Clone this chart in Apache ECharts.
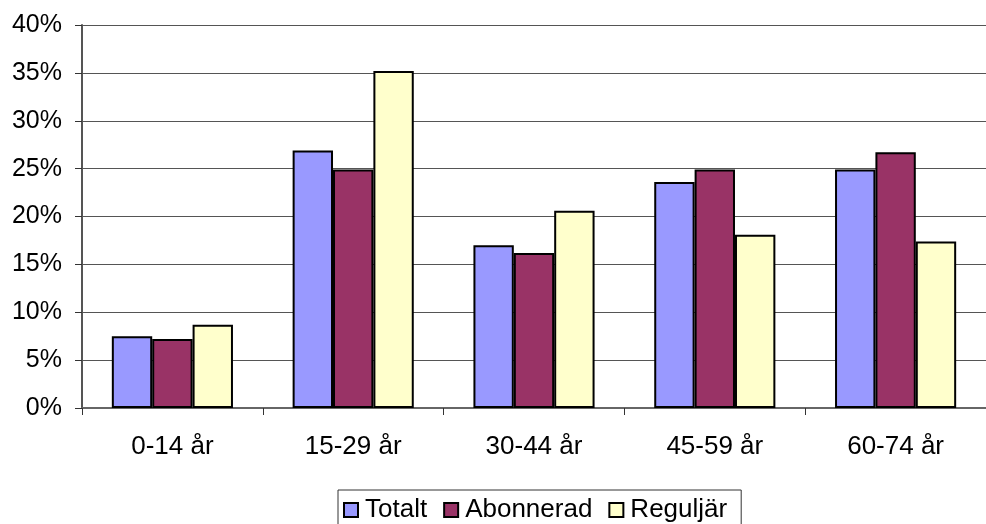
<!DOCTYPE html>
<html>
<head>
<meta charset="utf-8">
<script src="https://cdn.jsdelivr.net/npm/echarts@6/dist/echarts.min.js"></script>
<style>
  html, body { margin: 0; padding: 0; background: #fff; }
  #chart { width: 986px; height: 524px; }
</style>
</head>
<body>
<div id="chart"></div>
<script>
const FONT = '"Liberation Sans", Arial, sans-serif'

const categories = ['0-14 år', '15-29 år', '30-44 år', '45-59 år', '60-74 år']
const seriesNames = ['Totalt', 'Abonnerad', 'Reguljär']
const totalt = [7.5, 26.9, 17.0, 23.6, 24.9]
const abonnerad = [7.2, 24.9, 16.2, 24.9, 26.7]
const reguljar = [8.7, 35.2, 20.6, 18.1, 17.4]
const colors = ['#9999ff', '#993366', '#ffffcc']

const chart = echarts.init(document.getElementById('chart'))

const makeBar = (name, data, color) => ({
  name,
  type: 'bar',
  data,
  barGap: '0%',
  barCategoryGap: '33%',
  itemStyle: { color, borderColor: '#000', borderWidth: 2 },
})

chart.setOption({
  animation: false,
  textStyle: { fontFamily: FONT },
  grid: { left: 82, top: 25, right: -12, bottom: 116, containLabel: false },
  legend: {
    top: 490,
    left: 338,
    data: seriesNames,
    icon: 'rect',
    itemWidth: 14,
    itemHeight: 14,
    itemGap: 16,
    padding: [7, 14, 30, 5],
    borderColor: '#333',
    borderWidth: 1,
    itemStyle: { borderColor: '#000', borderWidth: 2 },
    textStyle: { fontSize: 26, color: '#000', fontFamily: FONT, padding: [0, 0, 0, 2] },
  },
  xAxis: {
    type: 'category',
    data: categories,
    axisLine: { lineStyle: { color: '#666', width: 2 } },
    axisTick: { show: true, length: 7, lineStyle: { color: '#333', width: 1 } },
    axisLabel: { fontSize: 26, color: '#000', margin: 26, fontFamily: FONT },
  },
  yAxis: {
    type: 'value',
    min: 0,
    max: 40,
    interval: 5,
    axisLine: { show: true, lineStyle: { color: '#555', width: 2 } },
    axisTick: { show: true, length: 7, lineStyle: { color: '#333', width: 1 } },
    axisLabel: { fontSize: 25, color: '#000', margin: 20, formatter: '{value}%', fontFamily: FONT },
    splitLine: { show: true, lineStyle: { color: '#555', width: 1 } },
  },
  series: [
    makeBar(seriesNames[0], totalt, colors[0]),
    makeBar(seriesNames[1], abonnerad, colors[1]),
    makeBar(seriesNames[2], reguljar, colors[2]),
  ],
})
</script>
</body>
</html>
